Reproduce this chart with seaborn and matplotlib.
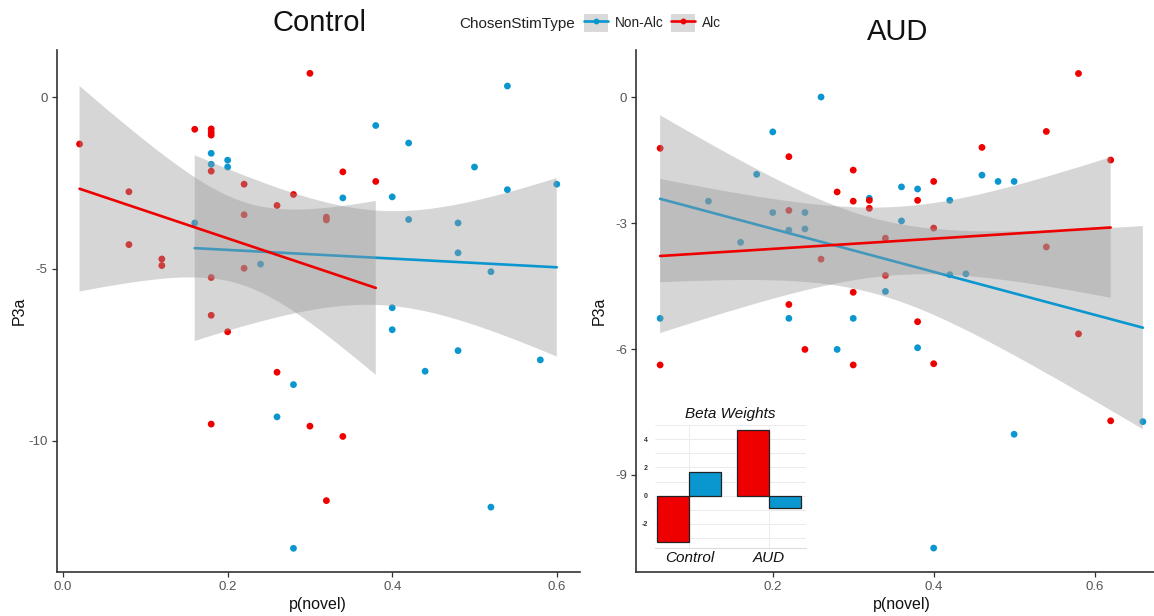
import numpy as np
import pandas as pd
import matplotlib
matplotlib.use("Agg")
import matplotlib.pyplot as plt
import seaborn as sns
from matplotlib.lines import Line2D
from matplotlib.patches import Patch
from matplotlib.legend_handler import HandlerTuple
from matplotlib.ticker import MultipleLocator, FormatStrFormatter

sns.set_theme(style="white")
plt.rcParams["font.family"] = ["Liberation Sans", "DejaVu Sans"]
plt.rcParams["axes.unicode_minus"] = False

# ---------------- data ----------------
# Control panel
ctrl_alc_x = [0.02, 0.08, 0.08, 0.12, 0.12, 0.16, 0.18, 0.18, 0.18, 0.18, 0.22, 0.22, 0.22, 0.18,
              0.26, 0.28, 0.30, 0.32, 0.32, 0.34, 0.38, 0.18, 0.20, 0.26, 0.18, 0.30, 0.34, 0.32]
ctrl_alc_y = [-1.36, -2.75, -4.29, -4.71, -4.90, -0.93, -0.92, -1.02, -1.10, -2.15, -2.53, -3.42, -4.98, -5.25,
              -3.15, -2.83, 0.70, -3.49, -3.57, -2.17, -2.45, -6.35, -6.83, -8.01, -9.52, -9.58, -9.88, -11.75]
ctrl_non_x = [0.16, 0.18, 0.18, 0.20, 0.20, 0.24, 0.34, 0.38, 0.40, 0.42, 0.42, 0.48, 0.48, 0.50,
              0.52, 0.54, 0.54, 0.60, 0.40, 0.40, 0.48, 0.44, 0.58, 0.28, 0.26, 0.52, 0.28]
ctrl_non_y = [-3.66, -1.63, -1.95, -1.83, -2.03, -4.86, -2.93, -0.82, -2.90, -1.33, -3.56, -3.66, -4.53, -2.03,
              -5.08, 0.33, -2.69, -2.53, -6.13, -6.77, -7.38, -7.98, -7.65, -8.37, -9.31, -11.94, -13.14]

# AUD panel
aud_alc_x = [0.06, 0.22, 0.30, 0.28, 0.30, 0.32, 0.32, 0.38, 0.40, 0.22, 0.46, 0.54, 0.58, 0.62,
             0.40, 0.34, 0.54, 0.26, 0.34, 0.30, 0.22, 0.38, 0.24, 0.06, 0.30, 0.40, 0.58, 0.62]
aud_alc_y = [-1.22, -1.42, -1.74, -2.26, -2.48, -2.46, -2.65, -2.46, -2.01, -2.70, -1.20, -0.82, 0.56, -1.50,
             -3.12, -3.36, -3.57, -3.86, -4.25, -4.65, -4.94, -5.35, -6.01, -6.38, -6.38, -6.35, -5.64, -7.71]
aud_non_x = [0.26, 0.20, 0.18, 0.12, 0.20, 0.24, 0.22, 0.24, 0.16, 0.32, 0.36, 0.38, 0.36, 0.42,
             0.46, 0.48, 0.50, 0.42, 0.44, 0.34, 0.06, 0.22, 0.30, 0.28, 0.38, 0.50, 0.66, 0.40]
aud_non_y = [0.00, -0.83, -1.84, -2.48, -2.75, -2.75, -3.17, -3.14, -3.46, -2.41, -2.14, -2.19, -2.95, -2.46,
             -1.86, -2.01, -2.01, -4.23, -4.21, -4.63, -5.27, -5.27, -5.27, -6.01, -5.97, -8.03, -7.73, -10.74]

# Inset: beta weights
beta_groups = ["Control", "Control", "AUD", "AUD"]
beta_types = ["Alc", "Non-Alc", "Alc", "Non-Alc"]
beta_values = [-3.3, 1.7, 4.65, -0.9]

RED = "#EE0000"
BLUE = "#0A97D0"
palette = {"Non-Alc": BLUE, "Alc": RED}

W, H = 1154, 616
fig = plt.figure(figsize=(W / 100, H / 100), dpi=100)
fig.patch.set_facecolor("white")


def fx(px):
    return px / W


def fy(py):
    return 1 - py / H


def t975(df):
    try:
        from scipy import stats
        return float(stats.t.ppf(0.975, df))
    except Exception:
        z = 1.959964
        return (z + (z ** 3 + z) / (4 * df)
                + (5 * z ** 5 + 16 * z ** 3 + 3 * z) / (96 * df ** 2)
                + (3 * z ** 7 + 19 * z ** 5 + 17 * z ** 3 - 15 * z) / (384 * df ** 3))


def ols_band(x, y, grid):
    x = np.asarray(x, float)
    y = np.asarray(y, float)
    n = len(x)
    b1, b0 = np.polyfit(x, y, 1)
    resid = y - (b0 + b1 * x)
    s = np.sqrt(np.sum(resid ** 2) / (n - 2))
    sxx = np.sum((x - x.mean()) ** 2)
    se = s * np.sqrt(1.0 / n + (grid - x.mean()) ** 2 / sxx)
    fit = b0 + b1 * grid
    t = t975(n - 2)
    return fit - t * se, fit + t * se


axL = fig.add_axes([fx(56.6), fy(572), (579.8 - 56.6) / W, (572 - 50) / H])
axR = fig.add_axes([fx(636), fy(572), 531 / W, (572 - 50) / H])


def panel(ax, xa, ya, xn, yn, xlim, ylim, xticks, yticks, ylabelpad):
    df = pd.DataFrame({
        "p(novel)": list(xn) + list(xa),
        "P3a": list(yn) + list(ya),
        "ChosenStimType": ["Non-Alc"] * len(xn) + ["Alc"] * len(xa),
    })
    sns.scatterplot(data=df, x="p(novel)", y="P3a", hue="ChosenStimType", palette=palette,
                    s=24, linewidth=0, legend=False, ax=ax, zorder=1)
    z = 2
    for grp in ["Non-Alc", "Alc"]:
        sub = df[df["ChosenStimType"] == grp]
        gx = sub["p(novel)"].to_numpy()
        gy = sub["P3a"].to_numpy()
        grid = np.linspace(gx.min(), gx.max(), 100)
        lo, hi = ols_band(gx, gy, grid)
        ax.fill_between(grid, lo, hi, facecolor="#999999", alpha=0.4, edgecolor="none", zorder=z)
        sns.regplot(data=sub, x="p(novel)", y="P3a", scatter=False, ci=None,
                    color=palette[grp], line_kws={"lw": 1.9}, ax=ax, truncate=True)
        ax.lines[-1].set_zorder(z + 1)
        z += 2
    ax.set_xlim(*xlim)
    ax.set_ylim(*ylim)
    ax.set_xticks(xticks)
    ax.set_yticks(yticks)
    ax.xaxis.set_major_formatter(FormatStrFormatter("%.1f"))
    for s in ["top", "right"]:
        ax.spines[s].set_visible(False)
    for s in ["left", "bottom"]:
        ax.spines[s].set_color("#333333")
        ax.spines[s].set_linewidth(1.2)
    ax.tick_params(axis="both", which="both", length=3.5, width=0.9, color="#333333",
                   labelsize=9.5, labelcolor="#555555", pad=3, left=True, bottom=True)
    ax.set_xlabel("p(novel)", fontsize=11.5, color="#111111", labelpad=3)
    ax.set_ylabel("P3a", fontsize=11.5, color="#111111", labelpad=ylabelpad)
    ax.set_facecolor("white")


panel(axL, ctrl_alc_x, ctrl_alc_y, ctrl_non_x, ctrl_non_y,
      (-0.0079, 0.628), (-13.83, 1.38), [0.0, 0.2, 0.4, 0.6], [0, -5, -10], 1)
panel(axR, aud_alc_x, aud_alc_y, aud_non_x, aud_non_y,
      (0.03, 0.69), (-11.31, 1.12), [0.2, 0.4, 0.6], [0, -3, -6, -9], 6)

fig.text(fx(319), fy(23), "Control", fontsize=21, ha="center", va="center", color="#111111")
fig.text(fx(898), fy(32), "AUD", fontsize=21, ha="center", va="center", color="#111111")

# Legend
fig.text(fx(459), fy(24), "ChosenStimType", fontsize=11, ha="left", va="center", color="#222222")
handles = [
    (Patch(facecolor="#D9D9D9", edgecolor="none"),
     Line2D([], [], color=BLUE, lw=1.9, marker="o", ms=3.2)),
    (Patch(facecolor="#D9D9D9", edgecolor="none"),
     Line2D([], [], color=RED, lw=1.9, marker="o", ms=3.2)),
]
fig.legend(handles=handles, labels=["Non-Alc", "Alc"],
           handler_map={tuple: HandlerTuple(ndivide=1, pad=0)},
           loc="center left", bbox_to_anchor=(fx(584), fy(23)), ncol=2, frameon=False,
           borderpad=0, borderaxespad=0, handlelength=1.75, handleheight=1.6,
           handletextpad=0.55, columnspacing=0.5, fontsize=9.8, labelcolor="#222222")

# Inset bar chart
axI = fig.add_axes([fx(655), fy(548), 151 / W, 123 / H])
axI.set_facecolor("white")
bdf = pd.DataFrame({"group": beta_groups, "type": beta_types, "beta": beta_values})
sns.barplot(data=bdf, x="group", y="beta", hue="type", hue_order=["Alc", "Non-Alc"],
            order=["Control", "AUD"], palette=palette, edgecolor="#222222", linewidth=0.9,
            width=0.8, saturation=1, legend=False, ax=axI, zorder=3)
axI.set_xlim(-0.43, 1.46)
axI.set_ylim(-3.71, 5.01)
axI.yaxis.set_major_locator(MultipleLocator(2))
axI.yaxis.set_minor_locator(MultipleLocator(1))
axI.grid(True, which="both", axis="y", color="#EBEBEB", lw=0.7, zorder=0)
axI.grid(True, which="major", axis="x", color="#EBEBEB", lw=0.7, zorder=0)
axI.set_axisbelow(True)
for s in ["top", "right", "left"]:
    axI.spines[s].set_visible(False)
axI.spines["bottom"].set_color("#DDDDDD")
axI.spines["bottom"].set_linewidth(0.8)
axI.tick_params(axis="y", which="both", length=0, labelsize=5, pad=5, labelcolor="#333333")
axI.tick_params(axis="x", length=0, labelsize=11, pad=2, labelcolor="#111111")
for lab in axI.get_yticklabels():
    lab.set_fontweight("bold")
for lab in axI.get_xticklabels():
    lab.set_fontstyle("italic")
axI.set_xlabel("")
axI.set_ylabel("")
axI.set_title("Beta Weights", fontstyle="italic", fontsize=11, pad=5, color="#111111")

fig.savefig("out.png", dpi=100, facecolor="white")
